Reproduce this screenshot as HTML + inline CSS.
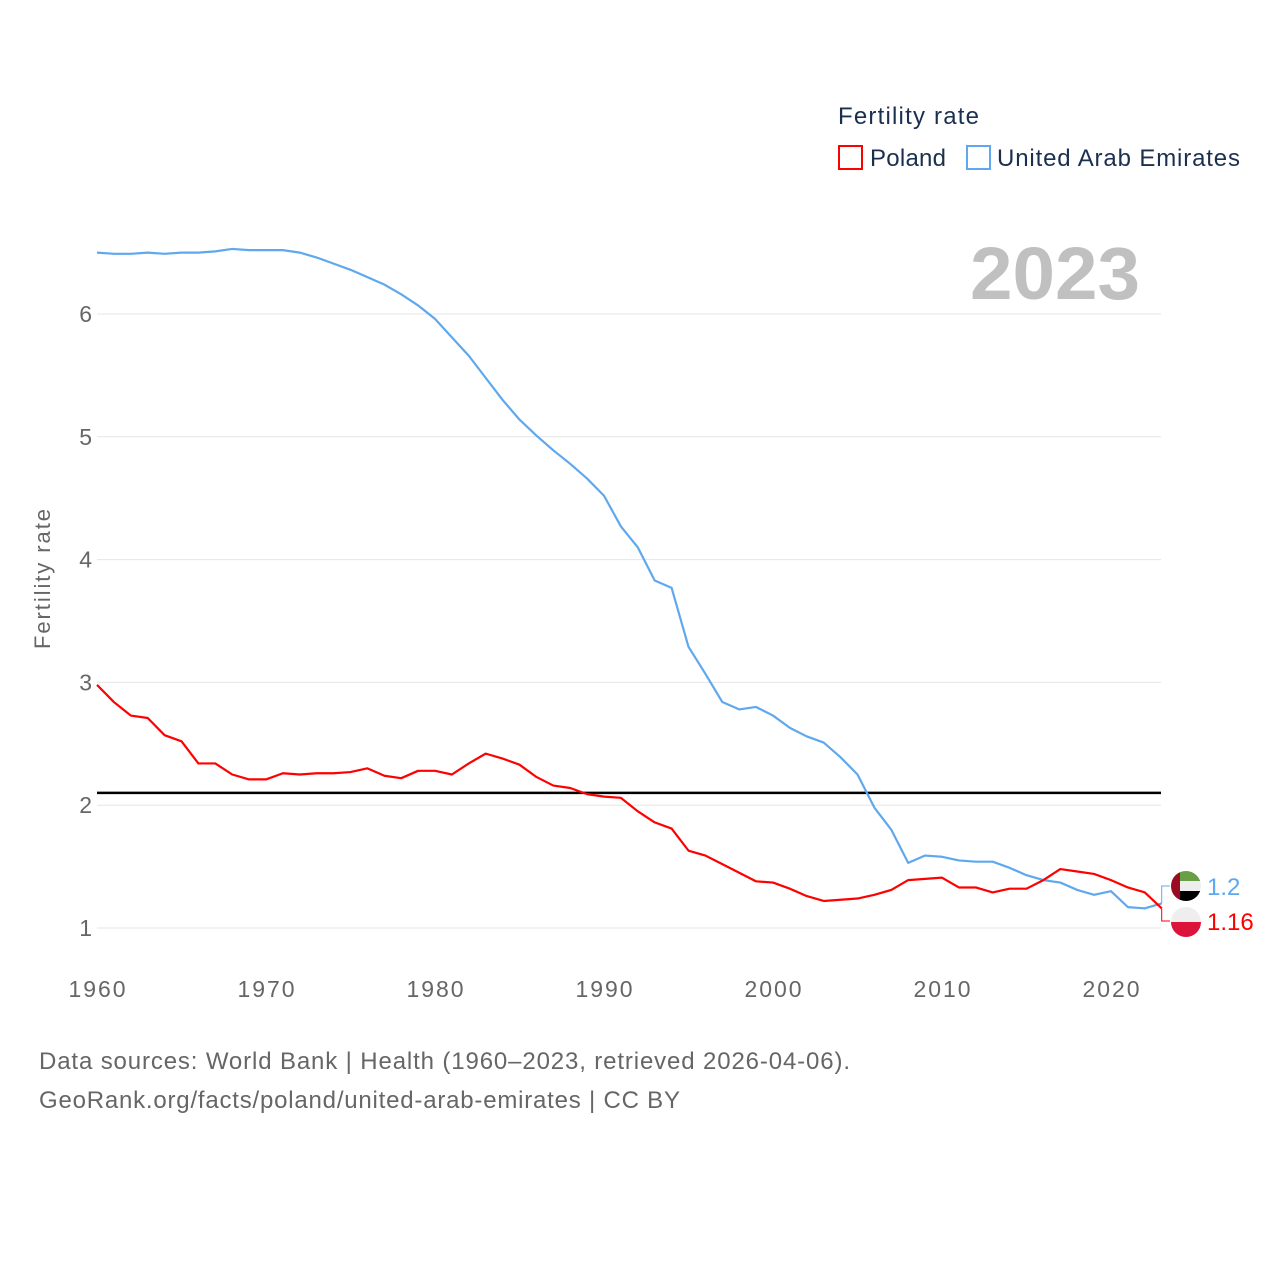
<!DOCTYPE html>
<html><head><meta charset="utf-8"><style>
body{margin:0;background:#fff;width:1280px;height:1280px;overflow:hidden;font-family:"Liberation Sans",sans-serif}
svg text{font-family:"Liberation Sans",sans-serif}
</style></head><body>
<svg id="chart" width="1280" height="1280" xmlns="http://www.w3.org/2000/svg">
<text x="838" y="124" font-size="24" fill="#1b2f4f" textLength="141">Fertility rate</text>
<rect x="839" y="146" width="23" height="23" fill="none" stroke="#ff0000" stroke-width="2"/>
<text x="870" y="166" font-size="24" fill="#1b2f4f" textLength="76">Poland</text>
<rect x="967" y="146" width="23" height="23" fill="none" stroke="#5fa8ee" stroke-width="2"/>
<text x="997" y="166" font-size="24" fill="#1b2f4f" textLength="243">United Arab Emirates</text>
<text x="970" y="299" font-size="74" font-weight="bold" fill="#c0c0c0" textLength="170" lengthAdjust="spacingAndGlyphs">2023</text>
<text transform="translate(50,579) rotate(-90)" font-size="22" fill="#666" text-anchor="middle" textLength="140">Fertility rate</text>
<g id="grid"></g><g id="marks"></g>
<text x="39" y="1069" font-size="24" fill="#666" textLength="811">Data sources: World Bank | Health (1960–2023, retrieved 2026-04-06).</text>
<text x="39" y="1108" font-size="24" fill="#666" textLength="641">GeoRank.org/facts/poland/united-arab-emirates | CC BY</text>
</svg>
<script>
const years=[];for(let y=1960;y<=2023;y++)years.push(y);
const poland=[2.98,2.84,2.73,2.71,2.57,2.52,2.34,2.34,2.25,2.21,2.21,2.26,2.25,2.26,2.26,2.27,2.30,2.24,2.22,2.28,2.28,2.25,2.34,2.42,2.38,2.33,2.23,2.16,2.14,2.09,2.07,2.06,1.95,1.86,1.81,1.63,1.59,1.52,1.45,1.38,1.37,1.32,1.26,1.22,1.23,1.24,1.27,1.31,1.39,1.40,1.41,1.33,1.33,1.29,1.32,1.32,1.39,1.48,1.46,1.44,1.39,1.33,1.29,1.16];
const uae=[6.50,6.49,6.49,6.50,6.49,6.50,6.50,6.51,6.53,6.52,6.52,6.52,6.50,6.46,6.41,6.36,6.30,6.24,6.16,6.07,5.96,5.81,5.66,5.48,5.30,5.14,5.01,4.89,4.78,4.66,4.52,4.27,4.10,3.83,3.77,3.29,3.07,2.84,2.78,2.80,2.73,2.63,2.56,2.51,2.39,2.25,1.98,1.80,1.53,1.59,1.58,1.55,1.54,1.54,1.49,1.43,1.39,1.37,1.31,1.27,1.30,1.17,1.16,1.20];
const yTicks=[1,2,3,4,5,6];
const xTicks=[1960,1970,1980,1990,2000,2010,2020];
const replacement=2.1;
const NS="http://www.w3.org/2000/svg";
const X=y=>97+(y-1960)*(1111-97)/60;
const Y=v=>928-(v-1)*122.8;
function mk(t,a,p){const e=document.createElementNS(NS,t);for(const k in a)e.setAttribute(k,a[k]);p.appendChild(e);return e;}
const grid=document.getElementById('grid'),marks=document.getElementById('marks');
yTicks.forEach(v=>{
 const l=mk('line',{x1:97,x2:1161,y1:Y(v),y2:Y(v),stroke:'#e6e6e6','stroke-width':1},grid);
 
 
 const t=mk('text',{x:92,y:Y(v)+8,'font-size':23,fill:'#666','text-anchor':'end'},grid);t.textContent=v;
 
 
});
xTicks.forEach(v=>{
 const t=mk('text',{x:X(v),y:997,'font-size':23,fill:'#666','text-anchor':'middle',textLength:57},grid);t.textContent=v;
 
 
});
const ref=mk('line',{x1:97,x2:1161,y1:Y(replacement),y2:Y(replacement),stroke:'#000','stroke-width':2.5},marks);


function line(data,color,name){
 const p=mk('polyline',{points:data.map((v,i)=>X(years[i])+','+Y(v)).join(' '),fill:'none',stroke:color,'stroke-width':2.2,'stroke-linejoin':'round'},marks);
 
 
}
line(uae,'#5fa8ee','line-uae');
line(poland,'#ff0000','line-poland');
const xe=X(2023),uy=886,py=921;
const bu=mk('polyline',{points:`${xe},${Y(uae[63])} ${xe},${uy} 1170,${uy}`,fill:'none',stroke:'#5fa8ee','stroke-width':1},marks);


const bp=mk('polyline',{points:`${xe},${Y(poland[63])} ${xe},${py} 1170,${py}`,fill:'none',stroke:'#ff0000','stroke-width':1},marks);


const fu=mk('g',{},marks);


mk('clipPath',{id:'cu'},fu).appendChild(document.createElementNS(NS,'circle'));
const cu=fu.querySelector('circle');cu.setAttribute('cx',1186);cu.setAttribute('cy',uy);cu.setAttribute('r',15);
const gu=mk('g',{'clip-path':'url(#cu)'},fu);
mk('rect',{x:1171,y:uy-15,width:30,height:10,fill:'#6a9e45'},gu);
mk('rect',{x:1171,y:uy-5,width:30,height:10,fill:'#eee'},gu);
mk('rect',{x:1171,y:uy+5,width:30,height:10,fill:'#000'},gu);
mk('rect',{x:1171,y:uy-15,width:9,height:30,fill:'#9b0a23'},gu);
const fp=mk('g',{},marks);


mk('clipPath',{id:'cp'},fp).appendChild(document.createElementNS(NS,'circle'));
const cp=fp.querySelector('#cp circle');cp.setAttribute('cx',1186);cp.setAttribute('cy',py+1);cp.setAttribute('r',15);
const gp=mk('g',{'clip-path':'url(#cp)'},fp);
mk('rect',{x:1171,y:py-14,width:30,height:15,fill:'#eee'},gp);
mk('rect',{x:1171,y:py+1,width:30,height:15,fill:'#dc143c'},gp);
const lu=mk('text',{x:1207,y:uy+9,'font-size':24,fill:'#5fa8ee'},marks);lu.textContent=uae[63].toString();


const lp=mk('text',{x:1207,y:py+9,'font-size':24,fill:'#ff0000'},marks);lp.textContent=poland[63].toString();


</script>
</body></html>
